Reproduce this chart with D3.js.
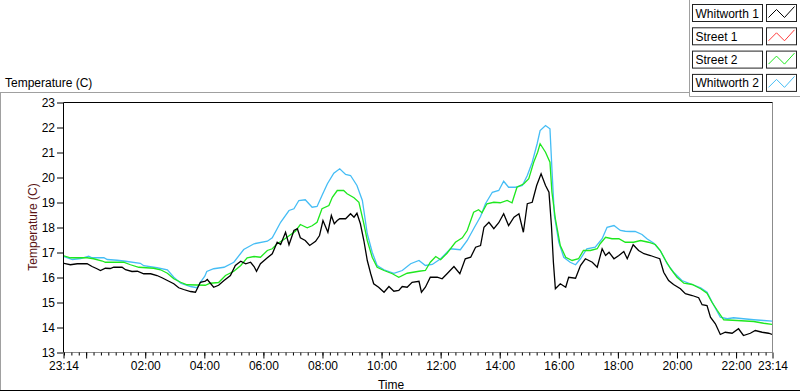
<!DOCTYPE html>
<html><head><meta charset="utf-8">
<script src="https://cdn.jsdelivr.net/npm/d3@7"></script>
<style>
body{margin:0;background:#fff}
svg{display:block;font-family:"Liberation Sans",Arial,sans-serif}
</style>
</head><body><svg id="c" width="800" height="392"></svg>
<script>
// ---------- data ----------
const seriesNames = ["Whitworth 1", "Street 1", "Street 2", "Whitworth 2"];
const yTicks = [13, 14, 15, 16, 17, 18, 19, 20, 21, 22, 23];
const xTickLabels = ["23:14", "02:00", "04:00", "06:00", "08:00", "10:00", "12:00", "14:00", "16:00", "18:00", "20:00", "22:00"];
const startTime = "23:14";

const whitworth1 = [
["23:14",16.57],["23:28",16.51],["23:42",16.55],["00:02",16.55],["00:12",16.44],["00:22",16.35],["00:29",16.28],
["00:39",16.37],["00:49",16.36],["00:56",16.41],["01:13",16.41],["01:20",16.31],["01:33",16.24],["01:44",16.25],
["01:57",16.15],["02:11",16.15],["02:24",16.08],["02:34",15.99],["02:45",15.88],["02:58",15.75],["03:08",15.59],
["03:18",15.52],["03:32",15.44],["03:42",15.41],["03:47",15.61],["03:52",15.81],["04:02",15.85],["04:06",15.92],
["04:19",15.61],["04:29",15.69],["04:40",15.88],["04:53",16.08],["05:03",16.48],["05:14",16.65],["05:24",16.55],
["05:34",16.61],["05:41",16.44],["05:46",16.25],["05:54",16.55],["06:08",16.79],["06:18",16.95],["06:28",17.41],
["06:35",17.32],["06:45",17.81],["06:52",17.31],["07:02",17.88],["07:09",17.95],["07:15",17.59],["07:25",17.48],
["07:34",17.28],["07:46",17.45],["07:54",17.68],["08:01",18.28],["08:11",17.81],["08:18",18.48],["08:24",18.15],
["08:30",18.28],["08:35",18.35],["08:47",18.35],["08:57",18.55],["09:04",18.41],["09:10",18.57],["09:17",18.15],
["09:24",17.48],["09:31",16.68],["09:38",16.15],["09:44",15.75],["09:54",15.61],["10:05",15.41],["10:15",15.64],
["10:25",15.45],["10:35",15.48],["10:42",15.64],["10:52",15.61],["11:02",15.81],["11:16",15.85],["11:21",15.41],
["11:29",15.61],["11:39",16.01],["11:53",16.01],["12:03",15.95],["12:13",16.15],["12:27",16.44],["12:39",16.15],
["12:50",16.75],["13:01",16.81],["13:11",17.21],["13:21",17.28],["13:28",18.01],["13:38",18.21],["13:48",17.95],
["13:58",18.19],["14:08",18.55],["14:18",18.08],["14:29",18.41],["14:39",18.55],["14:48",17.81],["14:56",18.95],
["15:06",19.01],["15:15",19.68],["15:24",20.15],["15:33",19.68],["15:40",19.41],["15:45",18.08],["15:49",16.61],
["15:53",15.55],["16:03",15.75],["16:14",15.61],["16:20",16.01],["16:34",15.97],["16:44",16.48],["16:54",16.75],
["17:08",16.61],["17:18",16.41],["17:28",17.15],["17:35",16.88],["17:42",17.01],["17:52",16.75],["18:02",16.88],
["18:12",17.04],["18:19",16.75],["18:31",17.31],["18:42",17.08],["18:53",16.95],["19:06",16.88],["19:16",16.81],
["19:25",16.75],["19:33",16.21],["19:43",15.88],["19:53",15.72],["20:07",15.55],["20:17",15.35],["20:31",15.28],
["20:44",15.19],["20:51",14.91],["21:01",14.88],["21:08",14.41],["21:18",14.15],["21:28",13.72],["21:38",13.81],
["21:52",13.77],["22:05",13.95],["22:15",13.68],["22:29",13.77],["22:39",13.88],["22:53",13.81],["23:06",13.77],
["23:14",13.72]
];

const street1 = [];

const street2 = [
["23:14",16.87],["23:28",16.79],["00:02",16.79],["00:15",16.75],["00:33",16.66],["00:39",16.61],["01:16",16.61],
["01:30",16.51],["01:47",16.41],["02:17",16.37],["02:31",16.31],["02:45",16.17],["02:58",15.95],["03:12",15.81],
["03:25",15.71],["03:45",15.70],["04:02",15.69],["04:12",15.77],["04:29",15.80],["04:43",16.08],["05:00",16.25],
["05:14",16.48],["05:27",16.79],["05:41",16.84],["05:54",16.81],["06:08",17.08],["06:18",17.15],["06:28",17.35],
["06:41",17.51],["06:55",17.71],["07:05",17.85],["07:15",18.12],["07:29",17.99],["07:39",18.07],["07:49",18.21],
["07:59",18.75],["08:13",18.88],["08:20",19.21],["08:30",19.48],["08:43",19.48],["08:50",19.35],["09:04",19.19],
["09:14",19.01],["09:24",18.15],["09:31",17.48],["09:41",16.81],["09:51",16.41],["10:05",16.28],["10:22",16.15],
["10:35",16.01],["10:52",16.17],["11:16",16.25],["11:29",16.28],["11:39",16.61],["11:50",16.84],["12:00",16.71],
["12:13",16.97],["12:30",17.41],["12:44",17.59],["12:54",17.88],["13:07",18.61],["13:17",18.71],["13:24",18.59],
["13:34",18.95],["13:48",19.01],["14:01",18.99],["14:15",19.08],["14:25",18.99],["14:35",19.61],["14:49",19.75],
["14:59",19.95],["15:09",20.61],["15:17",21.01],["15:22",21.35],["15:33",21.01],["15:42",20.61],["15:46",19.41],
["15:53",18.35],["16:03",17.28],["16:14",16.81],["16:27",16.68],["16:40",16.75],["16:50",17.08],["17:04",17.08],
["17:18",17.15],["17:24",17.35],["17:35",17.61],["17:48",17.55],["18:02",17.55],["18:15",17.41],["18:32",17.41],
["18:46",17.48],["19:02",17.41],["19:16",17.32],["19:26",17.08],["19:37",16.68],["19:47",16.35],["20:00",16.01],
["20:14",15.77],["20:31",15.72],["20:48",15.55],["21:01",15.37],["21:11",15.01],["21:22",14.68],["21:35",14.31],
["22:02",14.28],["22:36",14.24],["22:56",14.17],["23:14",14.12]
];

const whitworth2 = [
["23:14",16.84],["23:32",16.72],["23:49",16.76],["00:05",16.85],["00:12",16.79],["00:36",16.79],["00:43",16.72],
["01:03",16.69],["01:20",16.65],["01:50",16.57],["01:57",16.47],["02:24",16.39],["02:45",16.31],["02:58",16.01],
["03:12",15.77],["03:32",15.64],["03:45",15.59],["03:52",15.81],["04:01",16.05],["04:05",16.24],["04:19",16.35],
["04:40",16.41],["05:00",16.61],["05:20",17.12],["05:41",17.35],["06:08",17.45],["06:18",17.59],["06:35",18.21],
["06:52",18.68],["07:02",18.75],["07:12",19.08],["07:25",19.11],["07:39",18.81],["07:49",18.84],["07:59",19.28],
["08:10",19.75],["08:23",20.17],["08:35",20.35],["08:47",20.12],["08:57",20.08],["09:10",19.68],["09:21",19.08],
["09:31",17.75],["09:41",17.01],["09:51",16.48],["10:05",16.31],["10:25",16.17],["10:42",16.28],["10:59",16.55],
["11:16",16.68],["11:29",16.48],["11:43",16.52],["12:00",16.75],["12:20",17.15],["12:40",17.11],["12:54",17.48],
["13:07",17.95],["13:21",18.44],["13:31",18.95],["13:45",19.41],["13:58",19.48],["14:08",19.85],["14:18",19.61],
["14:32",19.61],["14:46",19.68],["14:56",20.08],["15:06",20.61],["15:16",21.35],["15:22",21.88],["15:33",22.08],
["15:42",21.95],["15:46",20.35],["15:51",18.48],["16:00",17.41],["16:10",16.81],["16:23",16.61],["16:34",16.51],
["16:44",16.75],["16:57",17.15],["17:14",17.21],["17:28",17.55],["17:38",18.01],["17:52",18.08],["18:05",17.88],
["18:15",17.85],["18:25",17.84],["18:35",17.84],["18:49",17.72],["18:59",17.55],["19:13",17.37],["19:26",17.08],
["19:40",16.55],["19:53",16.21],["20:10",15.88],["20:27",15.75],["20:48",15.59],["21:01",15.41],["21:15",14.88],
["21:28",14.41],["21:42",14.35],["21:55",14.39],["22:15",14.35],["22:36",14.31],["22:56",14.28],["23:14",14.25]
];

// ---------- styles ----------
const colors = {"Whitworth 1": "#000000", "Street 1": "#ff3b3b", "Street 2": "#1ee81e", "Whitworth 2": "#45bdf5"};

// ---------- helpers ----------
function parseSeries(arr) {
  let day = 0, prev = -1;
  return arr.map(([t, v]) => {
    const [h, m] = t.split(":").map(Number);
    const mins = h * 60 + m;
    if (prev >= 0 && mins < prev) day++;
    prev = mins;
    return {date: new Date(2000, 0, 1 + day, h, m), v: v};
  });
}
const [sh, sm] = startTime.split(":").map(Number);
const t0 = new Date(2000, 0, 1, sh, sm);
const t1 = new Date(2000, 0, 2, sh, sm);

const svg = d3.select("#c");
const L = 63.5, R = 772.5, T = 102.5, B = 352.5;
const x = d3.scaleTime().domain([t0, t1]).range([L, R]);
const y = d3.scaleLinear().domain([13, 23]).range([B, T]);

// outer panel frame
svg.append("rect").attr("width", 800).attr("height", 392).attr("fill", "#fff");
svg.append("line").attr("x1", 0.5).attr("x2", 0.5).attr("y1", 92.5).attr("y2", 391).attr("stroke", "#a0a0a0");
svg.append("line").attr("x1", 0).attr("x2", 689).attr("y1", 92.5).attr("y2", 92.5).attr("stroke", "#a0a0a0");
svg.append("line").attr("x1", 0).attr("x2", 800).attr("y1", 390.5).attr("y2", 390.5).attr("stroke", "#000");
// legend panel frame
svg.append("line").attr("x1", 689.5).attr("x2", 689.5).attr("y1", 0).attr("y2", 96.5).attr("stroke", "#a0a0a0");
svg.append("line").attr("x1", 689.5).attr("x2", 800).attr("y1", 96.5).attr("y2", 96.5).attr("stroke", "#a0a0a0");

// chart title
svg.append("text").attr("x", 5).attr("y", 87).attr("font-size", 12).attr("fill", "#000").text("Temperature (C)");

// plot area borders
svg.append("line").attr("x1", R).attr("x2", R).attr("y1", T).attr("y2", B).attr("stroke", "#8c8c8c");
svg.append("line").attr("x1", L).attr("x2", R).attr("y1", B).attr("y2", B).attr("stroke", "#8c8c8c");
svg.append("line").attr("x1", L).attr("x2", R).attr("y1", T).attr("y2", T).attr("stroke", "#000");
svg.append("line").attr("x1", L).attr("x2", L).attr("y1", T).attr("y2", B).attr("stroke", "#000");

// y axis
const yAxis = svg.append("g").attr("transform", `translate(${L - 0.5},0)`)
  .call(d3.axisLeft(y).tickValues(yTicks).tickSize(6).tickPadding(2).tickFormat(d3.format("d")));
yAxis.select(".domain").remove();
yAxis.selectAll("text").attr("font-size", 12).attr("font-family", "Liberation Sans, Arial, sans-serif").attr("fill", "#000");
yAxis.selectAll("line").attr("stroke", "#000");

// x axis minor ticks
const minorTicks = d3.timeMinute.every(15).range(t0, t1).filter(d => d > t0);
const xMinor = svg.append("g").attr("transform", `translate(0,${B})`)
  .call(d3.axisBottom(x).tickValues(minorTicks).tickSize(3).tickFormat(""));
xMinor.select(".domain").remove();
xMinor.selectAll("line").attr("stroke", "#000");

// x axis major ticks
const majorTicks = [t0].concat(d3.timeHour.every(2).range(t0, t1)).concat([t1]);
const fmt = d3.timeFormat("%H:%M");
const xMajor = svg.append("g").attr("transform", `translate(0,${B})`)
  .call(d3.axisBottom(x).tickValues(majorTicks).tickSize(6).tickPadding(3)
    .tickFormat(d => { const s = fmt(d); return xTickLabels.includes(s) ? s : ""; }));
xMajor.select(".domain").remove();
xMajor.selectAll("line").attr("stroke", "#000");
xMajor.selectAll("text").attr("font-size", 12).attr("font-family", "Liberation Sans, Arial, sans-serif").attr("fill", "#000");

// axis titles
svg.append("text").attr("x", 391).attr("y", 389).attr("text-anchor", "middle").attr("font-size", 12).attr("fill", "#000").text("Time");
svg.append("text").attr("transform", "translate(37,227) rotate(-90)").attr("text-anchor", "middle")
  .attr("font-size", 12).attr("fill", "#5a1414").text("Temperature (C)");

// clip
svg.append("clipPath").attr("id", "clip").append("rect")
  .attr("x", L + 0.5).attr("y", T + 0.5).attr("width", R - L - 1).attr("height", B - T - 1);

const line = d3.line().x(d => x(d.date)).y(d => y(d.v));
const plotG = svg.append("g").attr("clip-path", "url(#clip)");
const drawOrder = [
  ["Whitworth 2", whitworth2],
  ["Street 2", street2],
  ["Street 1", street1],
  ["Whitworth 1", whitworth1]
];
drawOrder.forEach(([name, arr]) => {
  if (!arr.length) return;
  plotG.append("path").datum(parseSeries(arr))
    .attr("fill", "none").attr("stroke", colors[name]).attr("stroke-width", 1.3)
    .attr("stroke-linejoin", "miter").attr("d", line);
});

// legend
const lg = svg.append("g");
seriesNames.forEach((name, i) => {
  const g = lg.append("g").attr("transform", `translate(692.5,${4.5 + i * 23.3})`);
  g.append("rect").attr("width", 70).attr("height", 17).attr("fill", "#fff").attr("stroke", "#222");
  g.append("text").attr("x", 3).attr("y", 13).attr("font-size", 12).attr("fill", "#000").text(name);
  g.append("rect").attr("x", 74).attr("width", 30).attr("height", 17).attr("fill", "#fff").attr("stroke", "#222");
  g.append("polyline").attr("points", "76,13 84,5 92,13 102,2")
    .attr("fill", "none").attr("stroke", colors[name]).attr("stroke-width", 1);
});
</script>
</body></html>
